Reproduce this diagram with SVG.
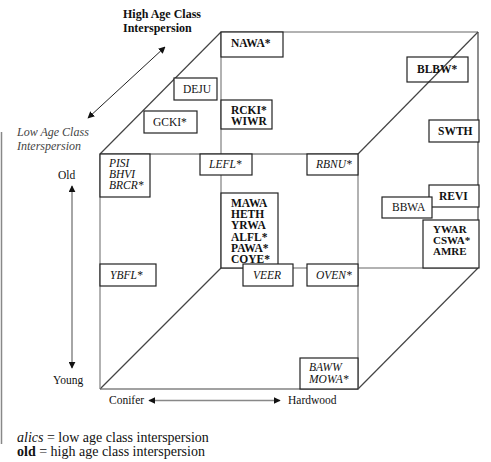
<svg xmlns="http://www.w3.org/2000/svg" width="491" height="462" viewBox="0 0 491 462">
<defs>
<marker id="ah" viewBox="0 0 10 10" refX="9" refY="5" markerWidth="7" markerHeight="7" orient="auto-start-reverse" markerUnits="userSpaceOnUse">
<path d="M0,0 L10,5 L0,10 z" fill="#111"/>
</marker>
<style>
text{font-family:"Liberation Serif","DejaVu Serif",serif;fill:#111}
.b{font-weight:bold;font-size:11.5px}
.n{font-size:11.5px}
.i{font-style:italic;font-size:11.5px}
.box{fill:#fff;stroke:#222;stroke-width:1.2}
.boxo{fill:none;stroke:#222;stroke-width:1.2}
.edge{stroke:#444;stroke-width:1.2;fill:none}
.edgeg{stroke:#999;stroke-width:1.5;fill:none}
.lbl{font-size:11.5px}
</style>
</defs>
<rect width="491" height="462" fill="#fff"/>
<g id="cube">
<line class="edgeg" x1="221" y1="32" x2="478" y2="32"/>
<line class="edge" x1="478" y1="32" x2="478" y2="268"/>
<line class="edgeg" x1="221" y1="268" x2="478" y2="268"/>
<line class="edgeg" x1="221" y1="32" x2="221" y2="268"/>
<line class="edge" x1="100" y1="154" x2="221" y2="32"/>
<line class="edge" x1="358" y1="154" x2="478" y2="32"/>
<line class="edge" x1="358" y1="389" x2="478" y2="268"/>
<line class="edge" x1="100" y1="389" x2="221" y2="268"/>
<line class="edge" x1="100" y1="154" x2="358" y2="154"/>
<line class="edgeg" x1="100" y1="154" x2="100" y2="389"/>
<line class="edgeg" x1="358" y1="154" x2="358" y2="389"/>
<line class="edge" x1="100" y1="389" x2="358" y2="389"/>
</g>
<g id="connectors">
<line x1="88" y1="118" x2="165" y2="47" stroke="#222" stroke-width="1" marker-start="url(#ah)" marker-end="url(#ah)"/>
<line x1="72" y1="186" x2="72" y2="368" stroke="#888" stroke-width="1.5" marker-start="url(#ah)" marker-end="url(#ah)"/>
<line x1="149" y1="400.5" x2="280" y2="400.5" stroke="#888" stroke-width="1.5" marker-start="url(#ah)" marker-end="url(#ah)"/>
<line x1="1.5" y1="132" x2="1.5" y2="444" stroke="#888" stroke-width="1.5"/>
</g>
<g id="labels">
<text class="b" x="123" y="18" style="font-size:12px">High Age Class</text>
<text class="b" x="123" y="32" style="font-size:12px">Interspersion</text>
<text class="i" x="17" y="136" style="font-size:12px;fill:#444">Low Age Class</text>
<text class="i" x="17" y="149.5" style="font-size:12px;fill:#444">Interspersion</text>
<text class="lbl" x="58" y="179">Old</text>
<text class="lbl" x="53" y="384">Young</text>
<text class="lbl" x="109" y="404">Conifer</text>
<text class="lbl" x="288" y="404">Hardwood</text>
<text x="17" y="442" style="font-size:14px"><tspan font-style="italic">alics</tspan> = low age class interspersion</text>
<text x="17" y="456" style="font-size:14px"><tspan font-weight="bold">old</tspan> = high age class interspersion</text>
</g>
<g id="n-NAWA"><rect class="box" x="221" y="32" width="62" height="25"/><text class="b" x="231" y="47">NAWA*</text></g>
<g id="n-DEJU"><rect class="box" x="174" y="78" width="43" height="22"/><text class="n" x="183" y="93">DEJU</text></g>
<g id="n-GCKI"><rect class="box" x="144" y="111" width="53" height="22"/><text class="n" x="153" y="126">GCKI*</text></g>
<g id="n-RCKI"><rect class="box" x="221" y="100" width="51" height="29"/><text class="b" x="231" y="114">RCKI*</text><text class="b" x="231" y="125">WIWR</text></g>
<g id="n-BLBW"><rect class="boxo" x="407" y="57" width="61" height="25"/><text class="b" x="417" y="73">BLBW*</text></g>
<g id="n-SWTH"><rect class="box" x="429" y="120" width="50" height="22"/><text class="b" x="438" y="135">SWTH</text></g>
<g id="n-PISI"><rect class="box" x="100" y="154" width="50" height="43"/><text class="i" x="109" y="167">PISI</text><text class="i" x="109" y="178">BHVI</text><text class="i" x="109" y="189">BRCR*</text></g>
<g id="n-LEFL"><rect class="box" x="200" y="154" width="52" height="21"/><text class="i" x="209" y="168">LEFL*</text></g>
<g id="n-RBNU"><rect class="box" x="307" y="154" width="51" height="21"/><text class="i" x="316" y="168">RBNU*</text></g>
<g id="n-MAWA"><rect class="box" x="221" y="193" width="57" height="75"/><text class="b" x="231" y="207">MAWA</text><text class="b" x="231" y="218">HETH</text><text class="b" x="231" y="229">YRWA</text><text class="b" x="231" y="240.5">ALFL*</text><text class="b" x="231" y="251.5">PAWA*</text><text class="b" x="231" y="262.5">COYE*</text></g>
<g id="n-YBFL"><rect class="box" x="100" y="264" width="56" height="22"/><text class="i" x="110" y="279">YBFL*</text></g>
<g id="n-VEER"><rect class="box" x="243" y="264" width="50" height="22"/><text class="i" x="253" y="279">VEER</text></g>
<g id="n-OVEN"><rect class="box" x="307" y="264" width="51" height="22"/><text class="i" x="316" y="279">OVEN*</text></g>
<g id="n-REVI"><rect class="box" x="429" y="185" width="50" height="22"/><text class="b" x="439" y="200">REVI</text></g>
<g id="n-BBWA"><rect class="box" x="382" y="197" width="50" height="21"/><text class="n" x="392" y="211">BBWA</text></g>
<g id="n-YWAR"><rect class="box" x="423" y="220" width="56" height="48"/><text class="b" x="433" y="233" style="font-size:11px">YWAR</text><text class="b" x="433" y="244" style="font-size:11px">CSWA*</text><text class="b" x="433" y="255" style="font-size:11px">AMRE</text></g>
<g id="n-BAWW"><rect class="box" x="300" y="358" width="58" height="31"/><text class="i" x="309" y="371">BAWW</text><text class="i" x="309" y="383">MOWA*</text></g>
</svg>
